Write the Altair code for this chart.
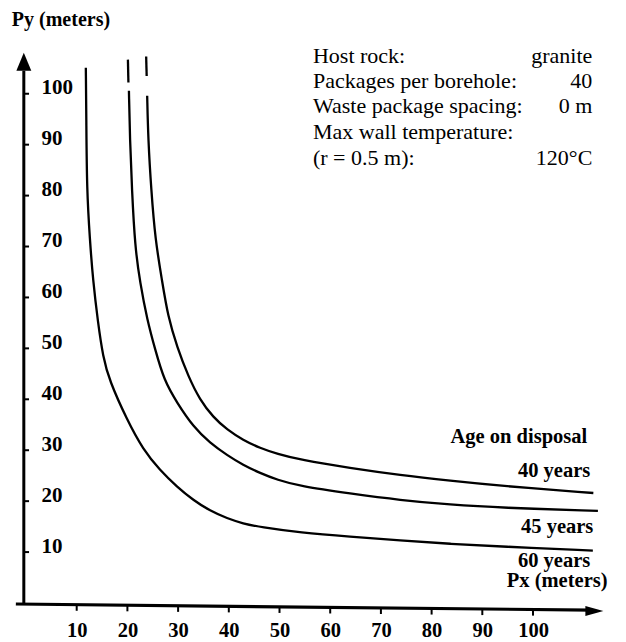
import altair as alt
import pandas as pd

# ---- data ----
tick_values = [10, 20, 30, 40, 50, 60, 70, 80, 90, 100]

# 60 years curve
x60 = [11.8, 11.9, 12.0, 12.6, 13.2, 14.2, 15.2, 16.4, 19.9, 23.1, 26.4, 29.8, 33.0,
       36.3, 39.7, 42.8, 46.2, 54.1, 63.9, 73.8, 83.7, 93.5, 111.8]
y60 = [105.1, 95.0, 81.1, 71.3, 63.5, 55.0, 48.3, 43.8, 36.0, 30.1, 26.1, 22.8, 20.2,
       18.1, 16.6, 15.6, 14.9, 13.8, 13.0, 12.3, 11.6, 11.1, 10.3]

# 45 years curve (short top piece, then main piece)
x45a = [20.1, 20.2]
y45a = [106.7, 102.2]
x45b = [20.3, 20.5, 20.9, 21.5, 22.5, 23.9, 25.5, 27.2, 29.8, 33.0, 36.3, 39.7, 42.8,
        46.2, 49.5, 54.1, 63.9, 73.8, 83.7, 93.5, 112.8]
y45b = [100.6, 91.0, 81.1, 69.9, 62.9, 55.6, 49.7, 43.8, 39.3, 34.6, 31.4, 29.0, 27.1,
        25.5, 24.2, 22.9, 21.5, 20.2, 19.3, 18.7, 18.1]

# 40 years curve (short top piece, then main piece)
x40a = [23.7, 23.8]
y40a = [107.3, 103.5]
x40b = [23.9, 24.1, 24.7, 25.5, 26.8, 28.0, 29.8, 32.0, 34.3, 36.9, 39.7, 42.8, 46.2,
        49.5, 54.1, 63.9, 73.8, 83.7, 93.5, 111.9]
y40b = [99.6, 91.0, 81.1, 71.3, 63.5, 56.2, 50.3, 44.5, 39.9, 36.5, 34.0, 32.0, 30.4,
        29.3, 28.1, 26.5, 25.1, 24.0, 23.0, 21.6]

info_labels = ["Host rock:", "Packages per borehole:", "Waste package spacing:",
               "Max wall temperature:", "(r = 0.5 m):"]
info_values = ["granite", "40", "0 m", "", "120°C"]
info_rows = [106.1, 101.2, 96.3, 91.2, 86.1]

age_labels = ["Age on disposal", "40 years", "45 years", "60 years", "Px (meters)"]
age_x = [110.7, 111.3, 111.9, 111.3, 114.7]
age_y = [31.4, 24.8, 13.8, 7.1, 3.1]

FONT = "Liberation Serif"

# ---- build tables ----
def seg(xs, ys, name):
    return pd.DataFrame({"x": xs, "y": ys, "seg": name})

curves = pd.concat([
    seg(x60, y60, "60"),
    seg(x45a, y45a, "45a"), seg(x45b, y45b, "45b"),
    seg(x40a, y40a, "40a"), seg(x40b, y40b, "40b"),
], ignore_index=True)

xs = alt.Scale(domain=[0, 114], nice=False, zero=False)
ys = alt.Scale(domain=[0, 108], nice=False, zero=False)

x_axis = alt.Axis(values=tick_values, domain=False, ticks=False, tickSize=0, grid=False,
                  title=None, labelFont=FONT, labelFontSize=20.5, labelFontWeight="bold",
                  labelColor="black", labelPadding=17, labelFlush=False)
y_axis = alt.Axis(values=tick_values, domain=False, ticks=False, tickSize=0, grid=False,
                  title=None, labelFont=FONT, labelFontSize=21, labelFontWeight="bold",
                  labelColor="black", labelAlign="left", labelBaseline="alphabetic",
                  labelPadding=-15, labelFlush=False)

lines = alt.Chart(curves).mark_line(
    color="black", strokeWidth=2.3, interpolate="basis"
).encode(
    x=alt.X("x:Q", scale=xs, axis=x_axis),
    y=alt.Y("y:Q", scale=ys, axis=y_axis),
    detail="seg:N",
)

# axis lines
yline = alt.Chart(pd.DataFrame({"x": [-0.43], "y": [-0.3], "y2": [104.5]})).mark_rule(
    color="black", strokeWidth=3
).encode(x=alt.X("x:Q", scale=xs), y=alt.Y("y:Q", scale=ys), y2="y2:Q")

xline = alt.Chart(pd.DataFrame({"x": [-2.0], "x2": [111.5], "y": [-0.2], "y2": [-1.4]})).mark_rule(
    color="black", strokeWidth=3.2
).encode(x=alt.X("x:Q", scale=xs), x2="x2:Q", y=alt.Y("y:Q", scale=ys), y2="y2:Q")

arrow_up = alt.Chart(pd.DataFrame({"x": [-0.43], "y": [106.3]})).mark_point(
    shape="M0,-1L0.83,1L-0.83,1Z", size=324, filled=True, color="black", opacity=1
).encode(x=alt.X("x:Q", scale=xs), y=alt.Y("y:Q", scale=ys))

arrow_right = alt.Chart(pd.DataFrame({"x": [112.1], "y": [-1.57]})).mark_point(
    shape="M1,0L-1,-0.55L-1,0.55Z", size=324, filled=True, color="black", opacity=1
).encode(x=alt.X("x:Q", scale=xs), y=alt.Y("y:Q", scale=ys))

# ticks
yticks = alt.Chart(pd.DataFrame({"v": tick_values})).transform_calculate(
    x0="-0.43", x1="0.6"
).mark_rule(color="black", strokeWidth=2).encode(
    x=alt.X("x0:Q", scale=xs), x2="x1:Q", y=alt.Y("v:Q", scale=ys)
)

xticks = alt.Chart(pd.DataFrame({"v": tick_values})).transform_calculate(
    y0="-0.2 - 0.0106 * (datum.v + 2)",
    y1="-0.2 - 0.0106 * (datum.v + 2) - 1.2",
).mark_rule(color="black", strokeWidth=2).encode(
    x=alt.X("v:Q", scale=xs), y=alt.Y("y0:Q", scale=ys), y2="y1:Q"
)

# texts
info_left = alt.Chart(pd.DataFrame({"t": info_labels, "y": info_rows})).transform_calculate(
    xx="56.6"
).mark_text(
    align="left", baseline="alphabetic", font=FONT, fontSize=22, color="black"
).encode(x=alt.X("xx:Q", scale=xs), y=alt.Y("y:Q", scale=ys), text="t:N")

info_right = alt.Chart(pd.DataFrame({"t": info_values, "y": info_rows})).transform_calculate(
    xx="111.7"
).mark_text(
    align="right", baseline="alphabetic", font=FONT, fontSize=22, color="black"
).encode(x=alt.X("xx:Q", scale=xs), y=alt.Y("y:Q", scale=ys), text="t:N")

age_text = alt.Chart(pd.DataFrame({"t": age_labels, "x": age_x, "y": age_y})).mark_text(
    align="right", baseline="alphabetic", font=FONT, fontSize=20.5, fontWeight="bold", color="black"
).encode(x=alt.X("x:Q", scale=xs), y=alt.Y("y:Q", scale=ys), text="t:N")

py_title = alt.Chart(pd.DataFrame({"t": ["Py (meters)"], "x": [-2.8], "y": [113.4]})).mark_text(
    align="left", baseline="alphabetic", font=FONT, fontSize=20, fontWeight="bold", color="black"
).encode(x=alt.X("x:Q", scale=xs), y=alt.Y("y:Q", scale=ys), text="t:N")

chart = alt.layer(
    lines, yline, xline, arrow_up, arrow_right, yticks, xticks,
    info_left, info_right, age_text, py_title
).properties(
    width=578, height=550,
    autosize=alt.AutoSizeParams(type="none"),
    padding={"left": 18, "top": 45, "right": 14, "bottom": 38},
    background="white",
).configure_view(stroke=None)

chart.save("out.html", embed_options={"renderer": "svg", "actions": False})
